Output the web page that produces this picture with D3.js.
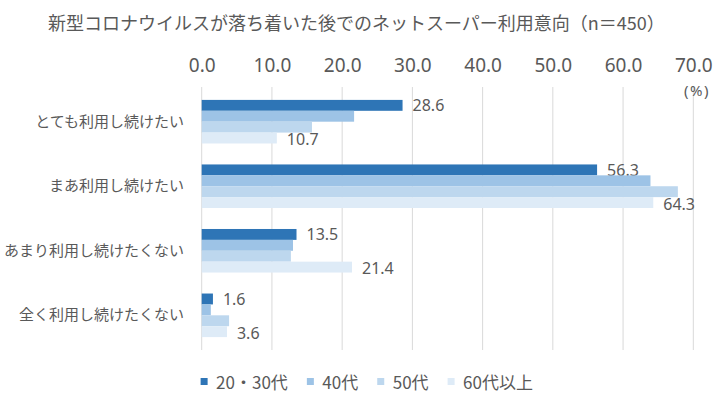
<!DOCTYPE html>
<html><head><meta charset="utf-8">
<script src="https://cdn.jsdelivr.net/npm/d3@7"></script>
<style>
html,body{margin:0;padding:0;background:#fff;}
svg{display:block;font-family:"Noto Sans CJK JP","Noto Sans",sans-serif;}
</style></head>
<body>
<svg id="chart" width="728" height="402"></svg>
<script>
const title = "新型コロナウイルスが落ち着いた後でのネットスーパー利用意向（n＝450）";
const categories = ["とても利用し続けたい","まあ利用し続けたい","あまり利用し続けたくない","全く利用し続けたくない"];
const seriesNames = ["20・30代","40代","50代","60代以上"];
const seriesColors = ["#2E75B6","#9DC3E6","#BDD7EE","#DEEBF7"];
const v2030 = [28.6, 56.3, 13.5, 1.6];
const v40 = [21.7, 63.9, 13.0, 1.3];
const v50 = [15.7, 67.8, 12.7, 3.9];
const v60 = [10.7, 64.3, 21.4, 3.6];
const tickValues = [0,10,20,30,40,50,60,70];
const labeledSeries = [0, 3];

const seriesValues = [v2030, v40, v50, v60];
const svg = d3.select("#chart");
const textColor = "#595959";

const x = d3.scaleLinear().domain([0,70]).range([201.7, 693.3]);
const y = d3.scaleBand().domain(categories).range([87, 350]).paddingInner(0.325).paddingOuter(0.2);
const ySub = d3.scaleBand().domain(seriesNames).range([0, y.bandwidth()]);

// title
svg.append("text").attr("x", 48).attr("y", 30)
  .attr("font-size", 18).attr("fill", textColor).text(title);

// gridlines
svg.append("g").selectAll("line").data(tickValues).join("line")
  .attr("x1", d => x(d)).attr("x2", d => x(d))
  .attr("y1", 87).attr("y2", 350)
  .attr("stroke", "#D9D9D9").attr("stroke-width", 1);

// top axis labels
const xAxis = d3.axisTop(x).tickValues(tickValues).tickFormat(d3.format(".1f")).tickSize(0).tickPadding(0);
const gx = svg.append("g").attr("transform", "translate(0,72)").call(xAxis);
gx.select(".domain").remove();
gx.selectAll("text").attr("font-size", 19).attr("fill", textColor)
  .attr("font-family", "'Noto Sans','Noto Sans CJK JP',sans-serif").attr("dy", 0);

// (%) unit
svg.append("text").attr("x", 710).attr("y", 96).attr("text-anchor", "end")
  .attr("font-size", 15).attr("letter-spacing", 1.5).attr("fill", textColor)
  .attr("font-family", "'Noto Sans',sans-serif").text("(%)");

// category labels
const yAxis = d3.axisLeft(y).tickSize(0).tickPadding(0);
const gy = svg.append("g").attr("transform", "translate(184,0)").call(yAxis);
gy.select(".domain").remove();
gy.selectAll("text").attr("font-size", 15).attr("fill", textColor)
  .attr("font-family", "'Noto Sans CJK JP',sans-serif");

// bars
const groups = svg.append("g").selectAll("g").data(categories).join("g")
  .attr("transform", d => `translate(0,${y(d)})`);
groups.each(function(cat, ci) {
  const g = d3.select(this);
  seriesNames.forEach((s, si) => {
    const val = seriesValues[si][ci];
    g.append("rect").attr("x", x(0)).attr("y", ySub(s))
      .attr("width", x(val) - x(0)).attr("height", ySub.bandwidth())
      .attr("fill", seriesColors[si]);
    if (labeledSeries.includes(si)) {
      g.append("text").attr("x", x(val) + 10).attr("y", ySub(s) + ySub.bandwidth()/2 + (si === 3 ? 1 : 0))
        .attr("dominant-baseline", "central")
        .attr("font-size", 16).attr("fill", textColor)
        .attr("font-family", "'Noto Sans',sans-serif")
        .text(d3.format(".1f")(val));
    }
  });
});

// legend
const legend = svg.append("g");
const items = legend.selectAll("g").data(seriesNames).join("g");
items.append("rect").attr("width", 7).attr("height", 7).attr("y", 378)
  .attr("fill", (d,i) => seriesColors[i]);
items.append("text").attr("x", 15.5).attr("y", 381.5).attr("dominant-baseline", "central")
  .attr("font-size", 17).attr("fill", textColor).text(d => d);
const widths = [];
items.each(function() {
  const w = 15.5 + d3.select(this).select("text").node().getComputedTextLength();
  widths.push(w);
});
const total = d3.sum(widths) + 19 * (widths.length - 1);
let start = 366.8 - total/2;
items.attr("transform", (d,i) => {
  const tx = start; start += widths[i] + 19; return `translate(${tx},0)`;
});
</script>
</body></html>
